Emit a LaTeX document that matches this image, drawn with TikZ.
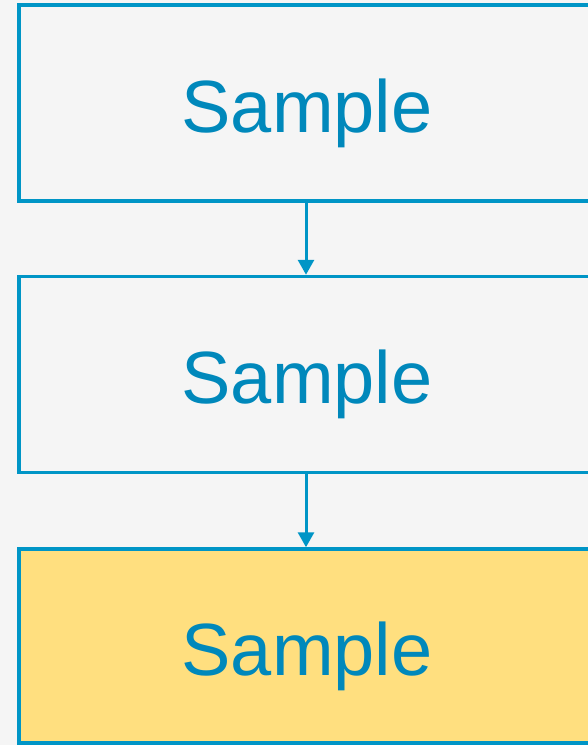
\documentclass[tikz,border=0pt]{standalone}
\usepackage{fontspec}
\setmainfont{Liberation Sans}
\usetikzlibrary{arrows.meta}
\definecolor{bg}{HTML}{F5F5F5}
\definecolor{edge}{HTML}{0095C6}
\definecolor{txt}{HTML}{0088BB}
\definecolor{hl}{HTML}{FFDF7F}
\tikzset{
  stepbox/.style={draw=edge, line width=3.5pt, fill=bg, minimum width=576pt, minimum height=196pt,
    inner sep=0pt, text=txt, font=\fontsize{74}{80}\selectfont, text height=58pt, text depth=0pt},
  conn/.style={draw=edge, line width=3pt, -{Triangle[width=16pt,length=15pt]}}
}
\begin{document}
\begin{tikzpicture}[x=1pt,y=1pt]
\clip (0,0) rectangle (588,-745);
\fill[bg] (0,0) rectangle (588,-745);
\node[stepbox] (a) at (307,-103) {Sample};
\node[stepbox] (b) at (307,-374.5) {Sample};
\node[stepbox, fill=hl, minimum height=194pt] (c) at (307,-646) {Sample};
\draw[conn] (a.south -| 306,0) -- (b.north -| 306,0);
\draw[conn] (b.south -| 306,0) -- (c.north -| 306,0);
\end{tikzpicture}
\end{document}
